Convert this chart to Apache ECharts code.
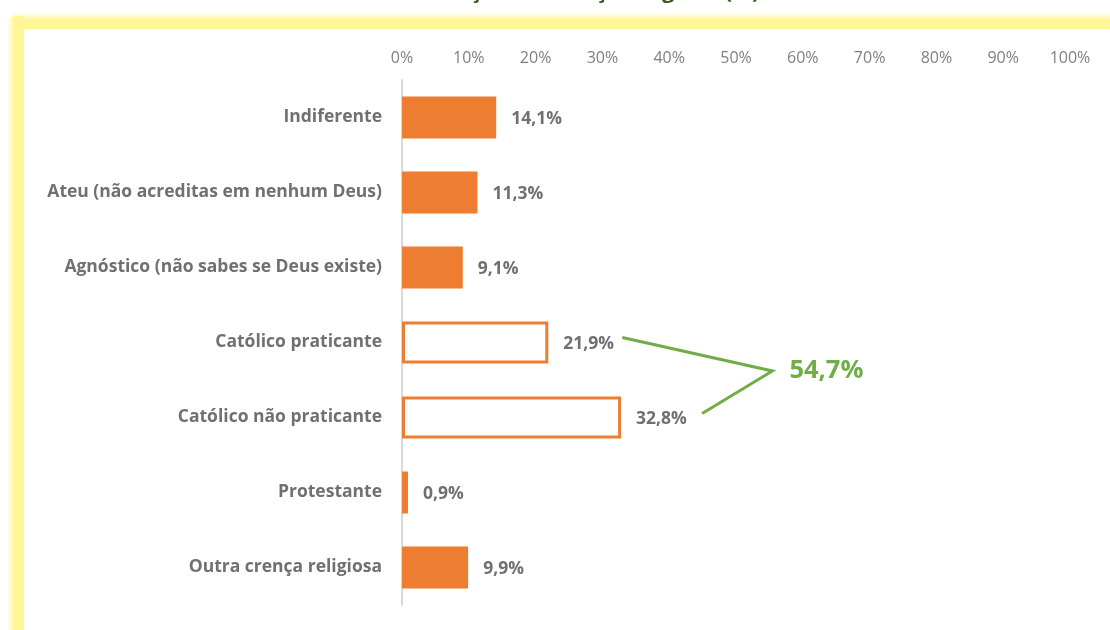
<!DOCTYPE html>
<html>
<head>
<meta charset="utf-8">
<script src="https://cdn.jsdelivr.net/npm/echarts@6/dist/echarts.min.js"></script>
<style>
  html, body { margin: 0; padding: 0; background: #fff; }
  #main { width: 1110px; height: 630px; }
</style>
</head>
<body>
<div id="main"></div>
<script>
// dados
var categorias = ['Indiferente', 'Ateu (não acreditas em nenhum Deus)', 'Agnóstico (não sabes se Deus existe)',
  'Católico praticante', 'Católico não praticante', 'Protestante', 'Outra crença religiosa'];
var valores = [14.1, 11.3, 9.1, 21.9, 32.8, 0.9, 9.9];
var vazios = [3, 4];   // barras só com contorno (católicos)
var titulo = 'Distribuição da crença religiosa (%)';

var laranja = '#ED7D31';
var verde = '#70AD47';
var cinza = '#707070';
var fonte = 'Open Sans';

var chart = echarts.init(document.getElementById('main'));

var dados = valores.map(function (v, i) {
  if (vazios.indexOf(i) >= 0) {
    return { value: v, itemStyle: { color: '#fff', borderColor: laranja, borderWidth: 3 } };
  }
  return v;
});

var option = {
  animation: false,
  grid: { left: 402, right: 40, top: 80, bottom: 25 },
  xAxis: {
    type: 'value',
    position: 'top',
    min: 0, max: 100, interval: 10,
    axisLine: { show: false },
    axisTick: { show: false },
    splitLine: { show: false },
    axisLabel: { formatter: '{value}%', color: '#808080', fontSize: 16, fontFamily: fonte, margin: 14 }
  },
  yAxis: {
    type: 'category',
    inverse: true,
    data: categorias,
    axisLine: { lineStyle: { color: '#d9d9d9', width: 2 } },
    axisTick: { show: false },
    axisLabel: { color: cinza, fontSize: 17.5, fontWeight: 'bold', fontFamily: fonte, margin: 20,
      padding: [3, 0, 0, 0] }
  },
  series: [{
    type: 'bar',
    data: dados,
    barWidth: 42,
    itemStyle: { color: laranja },
    label: {
      show: true, position: 'right', distance: 15, offset: [0, 2],
      color: cinza, fontSize: 17.5, fontWeight: 'bold', fontFamily: fonte,
      formatter: function (p) { return String(p.value).replace('.', ',') + '%'; }
    }
  }]
};
chart.setOption(option);

// moldura amarela, título e anotação da soma dos católicos
function px(v) { return chart.convertToPixel({ xAxisIndex: 0 }, v); }
function py(c) { return chart.convertToPixel({ yAxisIndex: 0 }, c); }

var soma = valores[vazios[0]] + valores[vazios[1]];
var y1 = py(categorias[vazios[0]]);
var y2 = py(categorias[vazios[1]]);
var p1 = [px(valores[vazios[0]]) + 74, y1 - 5];
var pv = [px(soma) + 5, (y1 + y2) / 2 - 9];
var p2 = [px(valores[vazios[1]]) + 81, y2 - 4];

chart.setOption({
  graphic: [
    {
      type: 'rect', z: -1,
      shape: { x: 14, y: 12, width: 1096, height: 17 },
      style: { fill: new echarts.graphic.LinearGradient(0, 0, 0, 1, [
        { offset: 0, color: 'rgba(255,245,150,0)' },
        { offset: 0.5, color: '#FFF697' },
        { offset: 1, color: '#FFF697' }]) }
    },
    {
      type: 'rect', z: -1,
      shape: { x: 7, y: 16, width: 17, height: 614, r: [8, 0, 0, 0] },
      style: { fill: new echarts.graphic.LinearGradient(0, 0, 1, 0, [
        { offset: 0, color: 'rgba(255,245,150,0)' },
        { offset: 0.45, color: '#FFF697' },
        { offset: 1, color: '#FFF697' }]) }
    },
    {
      type: 'text', x: 567, y: 3,
      style: { text: titulo, align: 'center', verticalAlign: 'bottom',
        fill: '#375623', font: 'bold 22px "Open Sans"' }
    },
    {
      type: 'polyline',
      shape: { points: [p1, pv, p2] },
      style: { stroke: verde, lineWidth: 3, fill: null }
    },
    {
      type: 'text', x: pv[0] + 17, y: pv[1],
      style: { text: soma.toFixed(1).replace('.', ',') + '%', verticalAlign: 'middle',
        fill: verde, font: 'bold 25.5px "Open Sans"' }
    }
  ]
});
</script>
</body>
</html>
